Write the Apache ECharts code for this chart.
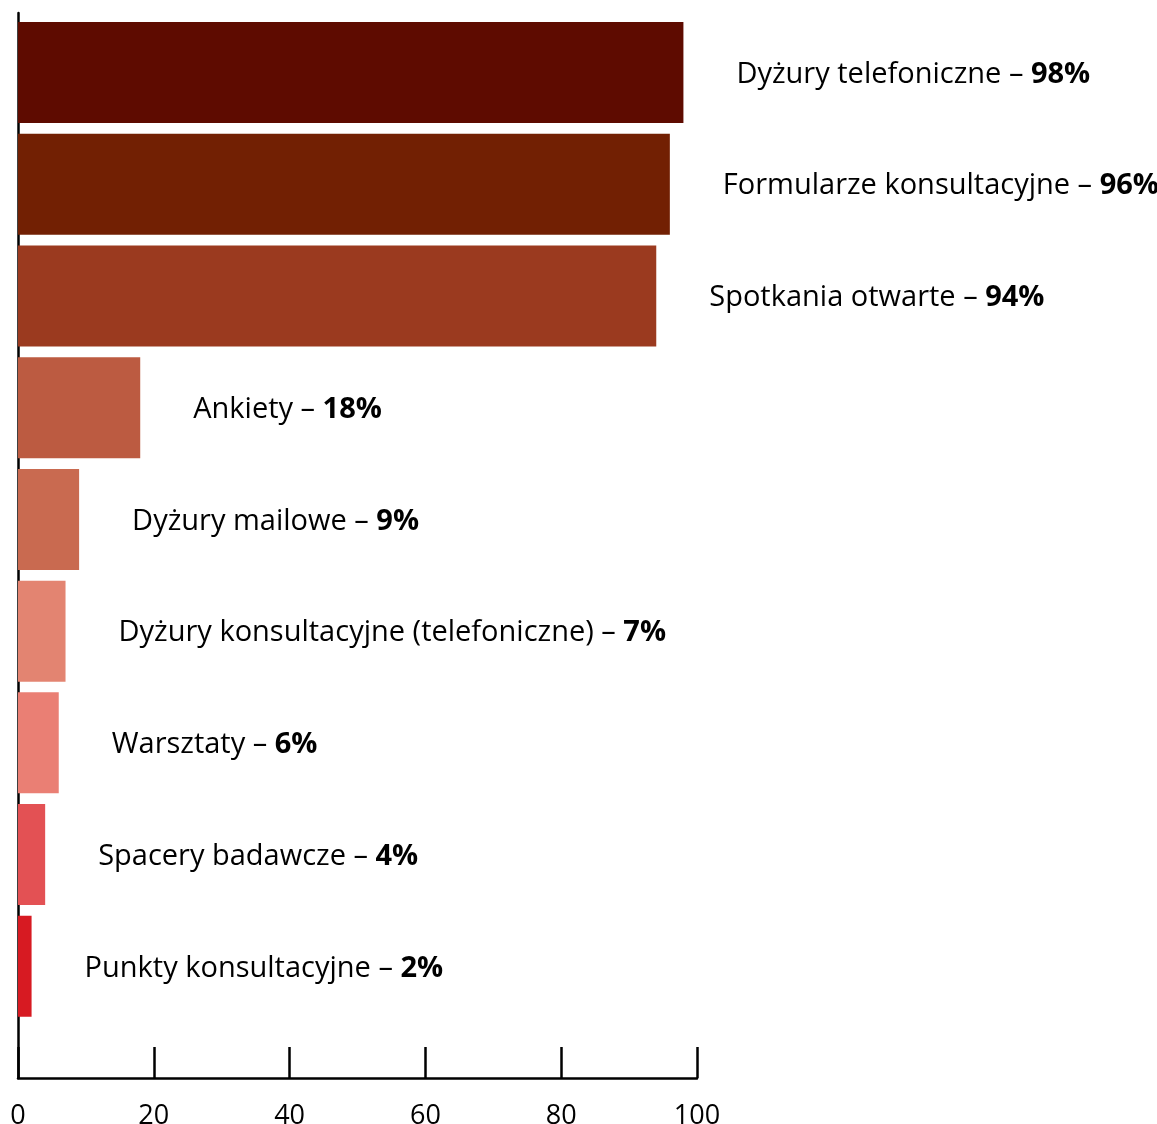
<!DOCTYPE html>
<html>
<head>
<meta charset="utf-8">
<script src="https://cdn.jsdelivr.net/npm/echarts@6/dist/echarts.min.js"></script>
<style>
  html, body { margin: 0; padding: 0; background: #fff; }
  #chart { width: 1157px; height: 1124px; }
</style>
</head>
<body>
<div id="chart"></div>
<script>
// Forms of consultation and the share of respondents using each
const categories = [
  'Dyżury telefoniczne',
  'Formularze konsultacyjne',
  'Spotkania otwarte',
  'Ankiety',
  'Dyżury mailowe',
  'Dyżury konsultacyjne (telefoniczne)',
  'Warsztaty',
  'Spacery badawcze',
  'Punkty konsultacyjne'
];
const values = [98, 96, 94, 18, 9, 7, 6, 4, 2];
const barColors = [
  '#5e0b00', '#722003', '#9b3a1f', '#bc5b41', '#c96a50',
  '#e38471', '#ea7f74', '#e35154', '#d71a22'
];
const axisMin = 0;
const axisMax = 100;
const axisStep = 20;

const FONT = '"Open Sans", sans-serif';
const FS = 29;

const chart = echarts.init(document.getElementById('chart'), null, { renderer: 'canvas' });

chart.setOption({
  backgroundColor: '#ffffff',
  animation: false,
  textStyle: { fontFamily: FONT },
  grid: [
    // bars
    { left: 18, right: 460, top: 16.6, height: 1005.6, outerBoundsMode: 'none' },
    // axis frame
    { left: 18, right: 460, top: 13, bottom: 46, outerBoundsMode: 'none' }
  ],
  xAxis: [
    {
      gridIndex: 0, type: 'value', min: axisMin, max: axisMax, interval: axisStep,
      show: false
    },
    {
      gridIndex: 1, type: 'value', min: axisMin, max: axisMax, interval: axisStep,
      axisLine: { show: true, lineStyle: { color: '#000', width: 2.5 } },
      axisTick: { show: true, inside: true, length: 31, lineStyle: { color: '#000', width: 2.5 } },
      axisLabel: { color: '#000', fontSize: 27, fontFamily: FONT, margin: 25 },
      splitLine: { show: false }
    }
  ],
  yAxis: [
    {
      gridIndex: 0, type: 'category', data: categories, inverse: true,
      show: false
    },
    {
      gridIndex: 1, type: 'value', min: 0, max: 1,
      axisLine: { show: true, lineStyle: { color: '#000', width: 2.5 } },
      axisTick: { show: false },
      axisLabel: { show: false },
      splitLine: { show: false }
    }
  ],
  series: [
    {
      type: 'bar',
      xAxisIndex: 0,
      yAxisIndex: 0,
      barWidth: 101,
      data: values.map((v, i) => ({ value: v, itemStyle: { color: barColors[i] } })),
      label: {
        show: true,
        position: 'right',
        distance: 53,
        offset: [0, 2],
        formatter: (p) => '{n|' + p.name + ' – }{b|' + p.value + '%}',
        rich: {
          n: { fontSize: FS, fontFamily: FONT, color: '#000' },
          b: { fontSize: FS, fontFamily: FONT, color: '#000', fontWeight: 'bold' }
        }
      }
    }
  ]
});
</script>
</body>
</html>
